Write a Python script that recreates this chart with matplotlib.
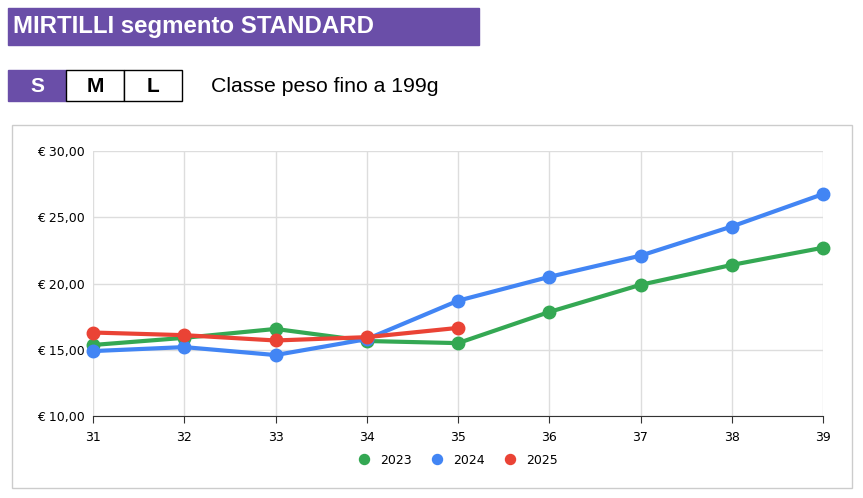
import matplotlib
matplotlib.use("Agg")
import matplotlib.pyplot as plt
from matplotlib.patches import Rectangle
from matplotlib.ticker import FuncFormatter

weeks = [31, 32, 33, 34, 35, 36, 37, 38, 39]
v2023 = [15.36, 15.9, 16.57, 15.66, 15.5, 17.85, 19.9, 21.4, 22.7]
v2024 = [14.9, 15.2, 14.6, 15.8, 18.7, 20.5, 22.1, 24.3, 26.75]
weeks2025 = [31, 32, 33, 34, 35]
v2025 = [16.3, 16.1, 15.7, 15.95, 16.65]
yticks = [10, 15, 20, 25, 30]

W, H = 863, 498
fig = plt.figure(figsize=(W/100, H/100), dpi=100)
fig.patch.set_facecolor("white")

def fx(x): return x / W
def fy(y): return 1 - y / H

purple = "#6a4ea8"
fig.patches.append(Rectangle((fx(8), fy(45)), fx(471), 37/H, transform=fig.transFigure, color=purple))
fig.text(fx(13), fy(27), "MIRTILLI segmento STANDARD", color="white", fontsize=17.3, fontweight="bold", va="center", family="Liberation Sans")

for i, lab in enumerate(["S", "M", "L"]):
    x0 = 8 + i*58
    fc = purple if i == 0 else "white"
    fig.patches.append(Rectangle((fx(x0), fy(101)), fx(58), 31/H, transform=fig.transFigure,
                                 facecolor=fc, edgecolor="black" if i else purple, lw=1))
    fig.text(fx(x0+29), fy(86), lab, color="white" if i == 0 else "black", fontsize=15, fontweight="bold",
             ha="center", va="center", family="Liberation Sans")
fig.text(fx(211), fy(86), "Classe peso fino a 199g", fontsize=15.3, va="center", family="Liberation Sans")

fig.patches.append(Rectangle((fx(12), fy(488)), fx(840), 363/H, transform=fig.transFigure,
                             facecolor="white", edgecolor="#cccccc", lw=1, zorder=-5))

ax = fig.add_axes([fx(93), fy(416), fx(730), 265/H])
ax.set_zorder(5)
ax.set_facecolor("none")
ax.plot(weeks, v2023, color="#34a853", lw=3, marker="o", ms=9, label="2023", zorder=3, clip_on=False)
ax.plot(weeks, v2024, color="#4285f4", lw=3, marker="o", ms=9, label="2024", zorder=3, clip_on=False)
ax.plot(weeks2025, v2025, color="#ea4335", lw=3, marker="o", ms=9, label="2025", zorder=4, clip_on=False)
ax.set_xlim(31, 39)
ax.set_ylim(10, 30)
ax.set_xticks(weeks)
ax.set_yticks(yticks)
ax.yaxis.set_major_formatter(FuncFormatter(lambda v, p: "€ %d,00" % v))
ax.grid(True, color="#dddddd", lw=1)
for s in ["top", "right", "left"]:
    ax.spines[s].set_visible(False)
ax.spines["bottom"].set_color("#333333")
ax.tick_params(axis="y", labelsize=9, length=0, pad=6)
ax.tick_params(axis="x", labelsize=9, length=5, direction="out", color="#333333", pad=6)
ax.legend(loc="upper center", bbox_to_anchor=(0.5, -0.1), ncol=3, frameon=False, fontsize=9,
          handlelength=1, markerscale=0.8, columnspacing=1.5)
for l in ax.get_legend().get_lines():
    l.set_linestyle("none")
fig.savefig("out.png", dpi=100)
